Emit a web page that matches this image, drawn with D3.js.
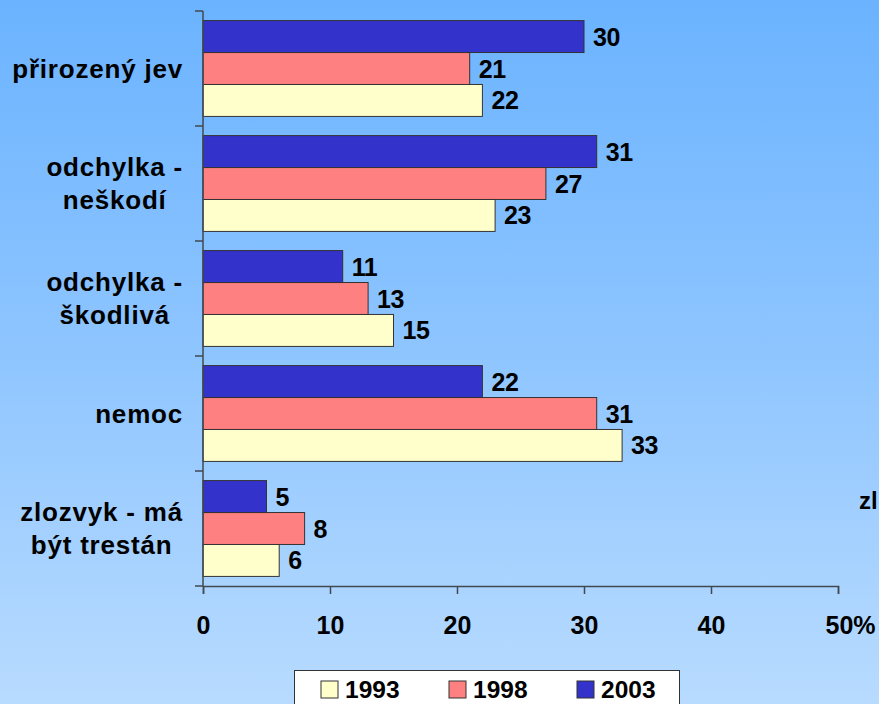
<!DOCTYPE html>
<html>
<head>
<meta charset="utf-8">
<script src="https://cdn.jsdelivr.net/npm/d3@7.9.0/dist/d3.min.js"></script>
<style>
  html, body { margin: 0; padding: 0; overflow: hidden; }
  svg { display: block; font-family: Arial, "Liberation Sans", sans-serif; font-weight: bold; }
</style>
</head>
<body>
<svg id="chart" width="879" height="704"></svg>
<script>
// categories (top to bottom), each label split into lines
const categories = ["přirozený jev", "odchylka - neškodí", "odchylka - škodlivá", "nemoc", "zlozvyk - má být trestán"];
const categoryLines = [["přirozený jev"], ["odchylka -", "neškodí"], ["odchylka -", "škodlivá"], ["nemoc"], ["zlozvyk - má", "být trestán"]];

// series values in %
const years = ["1993", "1998", "2003"];
const values1993 = [22, 23, 15, 33, 6];
const values1998 = [21, 27, 13, 31, 8];
const values2003 = [30, 31, 11, 22, 5];
const xTicks = [0, 10, 20, 30, 40, 50];

const colors = { "1993": "#FFFFCC", "1998": "#FF8080", "2003": "#3333CC" };
const seriesValues = { "1993": values1993, "1998": values1998, "2003": values2003 };

const svg = d3.select("#chart");

// background gradient
const defs = svg.append("defs");
const grad = defs.append("linearGradient").attr("id", "bg").attr("x1", 0).attr("y1", 0).attr("x2", 0).attr("y2", 1);
grad.append("stop").attr("offset", "0%").attr("stop-color", "#6BB3FF");
grad.append("stop").attr("offset", "50%").attr("stop-color", "#8EC5FF");
grad.append("stop").attr("offset", "100%").attr("stop-color", "#B8DBFF");
svg.append("rect").attr("width", 879).attr("height", 704).attr("fill", "url(#bg)");

// scales
const x = d3.scaleLinear().domain([0, 50]).range([203, 838]);
const y0 = d3.scaleBand().domain(categories).range([11, 586]);
const y1 = d3.scaleBand().domain(["2003", "1998", "1993"]).range([0, y0.bandwidth()]).paddingOuter(0.3);

// bars
const rows = categories.map((c, i) => ({
  cat: c,
  items: years.map(yr => ({ year: yr, value: seriesValues[yr][i] }))
}));

const groups = svg.append("g").selectAll("g")
  .data(rows)
  .join("g")
  .attr("transform", d => `translate(0,${y0(d.cat)})`);

groups.selectAll("rect")
  .data(d => d.items)
  .join("rect")
  .attr("x", x(0))
  .attr("y", d => y1(d.year))
  .attr("width", d => x(d.value) - x(0))
  .attr("height", y1.bandwidth())
  .attr("fill", d => colors[d.year])
  .attr("stroke", "#333")
  .attr("stroke-width", 1);

groups.selectAll("text")
  .data(d => d.items)
  .join("text")
  .attr("x", d => x(d.value) + 9)
  .attr("y", d => y1(d.year) + y1.bandwidth() / 2)
  .attr("dy", "0.36em")
  .attr("font-size", 25)
  .attr("letter-spacing", "-0.4px")
  .attr("fill", "#000")
  .text(d => d.value);

// y axis: line and ticks at band boundaries
const axisColor = "#404850";
svg.append("line")
  .attr("x1", x(0)).attr("x2", x(0))
  .attr("y1", y0.range()[0]).attr("y2", y0.range()[1])
  .attr("stroke", axisColor).attr("stroke-width", 1.5);
const bounds = categories.map(c => y0(c)).concat([y0.range()[1]]);
svg.append("g").selectAll("line")
  .data(bounds)
  .join("line")
  .attr("x1", x(0) - 8).attr("x2", x(0))
  .attr("y1", d => d).attr("y2", d => d)
  .attr("stroke", axisColor).attr("stroke-width", 1.5);

// x axis
const xAxis = d3.axisBottom(x).tickValues(xTicks).tickSize(8).tickFormat(d => d);
const gx = svg.append("g").attr("transform", `translate(0,${y0.range()[1]})`).call(xAxis);
gx.attr("font-family", null).attr("font-size", 25);
gx.select(".domain").attr("stroke", axisColor).attr("stroke-width", 1.5);
gx.selectAll(".tick line").attr("stroke", axisColor).attr("stroke-width", 1.5);
gx.selectAll(".tick text")
  .attr("fill", "#000")
  .attr("y", 30).attr("dy", "0.71em");
// "%" after the last tick label
gx.selectAll(".tick").filter(d => d === 50).select("text")
  .attr("text-anchor", "start").attr("x", -13)
  .text("50%");

// category labels: centered lines, block right-aligned
const labelRight = 183;
const lineH = 33;
categoryLines.forEach((lines, i) => {
  const cy = y0(categories[i]) + y0.bandwidth() / 2;
  const t = svg.append("text")
    .attr("font-size", 26)
    .attr("letter-spacing", "0.8px")
    .attr("text-anchor", "middle")
    .attr("fill", "#000");
  const spans = lines.map((ln, j) => t.append("tspan")
    .attr("y", cy + (j - (lines.length - 1) / 2) * lineH)
    .attr("dy", "0.36em")
    .text(ln));
  const w = d3.max(spans, s => s.node().getComputedTextLength());
  spans.forEach(s => s.attr("x", labelRight - w / 2));
});

// cut-off label at the right edge (only its start is visible)
svg.append("text")
  .attr("x", 859).attr("y", 509)
  .attr("font-size", 24).attr("fill", "#000")
  .text("zl");

// legend
const legend = svg.append("g");
legend.append("rect")
  .attr("x", 294.5).attr("y", 670.5).attr("width", 385).attr("height", 40)
  .attr("fill", "#fff").attr("stroke", "#333").attr("stroke-width", 1);
const legendX = d3.scalePoint().domain(years).range([321, 577]);
const li = legend.selectAll("g.item")
  .data(years)
  .join("g")
  .attr("class", "item")
  .attr("transform", d => `translate(${legendX(d)},681)`);
li.append("rect")
  .attr("width", 17).attr("height", 17)
  .attr("fill", d => colors[d]).attr("stroke", "#333");
li.append("text")
  .attr("x", 24).attr("y", 17)
  .attr("font-size", 24.5).attr("fill", "#000")
  .text(d => d);
</script>
</body>
</html>
